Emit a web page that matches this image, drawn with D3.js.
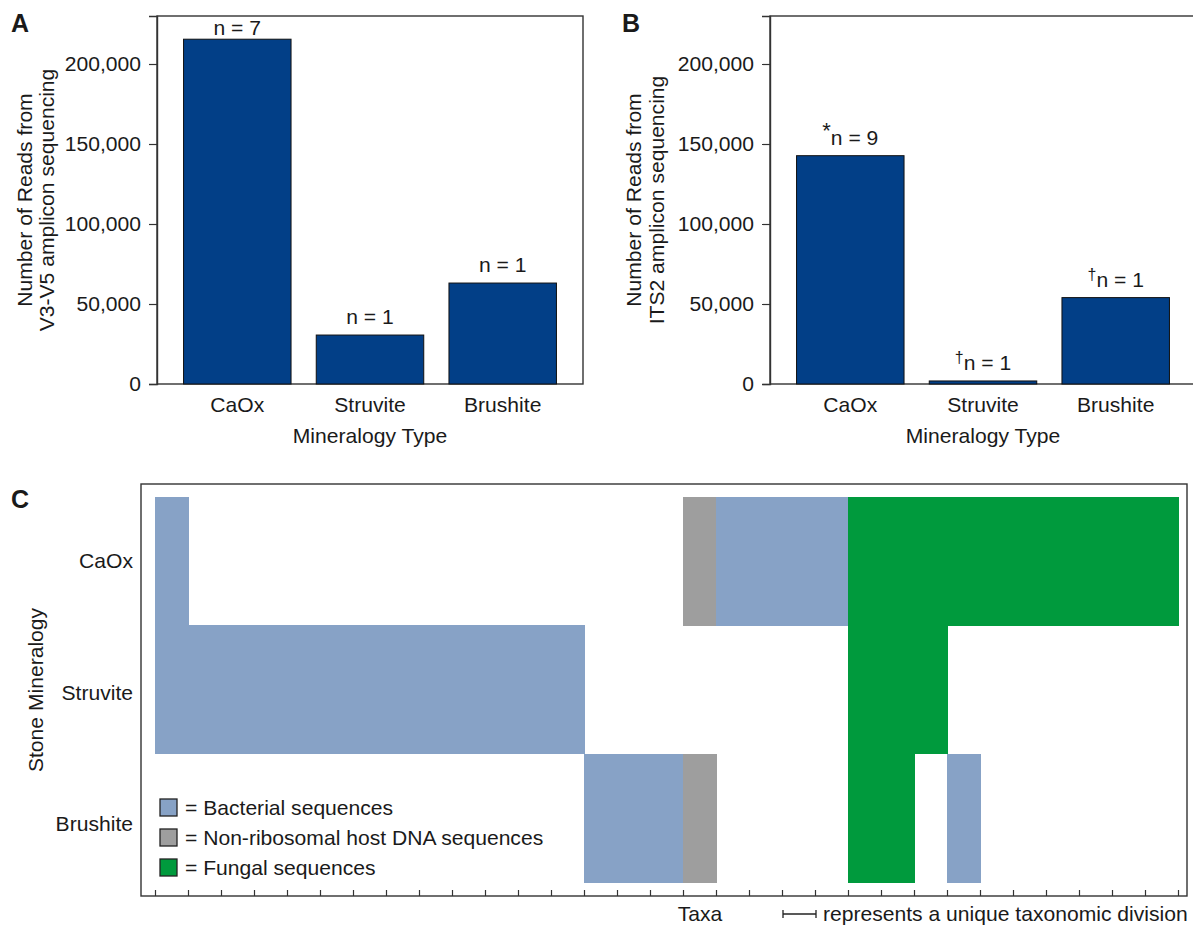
<!DOCTYPE html>
<html>
<head>
<meta charset="utf-8">
<script src="https://cdn.jsdelivr.net/npm/d3@7"></script>
<style>
  body { margin: 0; background: #fff; }
  text { font-family: "Liberation Sans", Arial, Helvetica, sans-serif; fill: #1a1a1a; }
</style>
</head>
<body>
<div id="chart"></div>
<script>
// ----------------------- data

var mineralTypes = ["CaOx", "Struvite", "Brushite"];
var v3v5Reads = [215500, 30600, 63100];
var its2Reads = [142700, 1900, 54000];
var v3v5Labels = ["n = 7", "n = 1", "n = 1"];
var its2Marks = ["*", "\u2020", "\u2020"];
var its2Labels = ["n = 9", "n = 1", "n = 1"];
var readTicks = [0, 50000, 100000, 150000, 200000];

// one letter per taxon column: B bacterial, H host DNA, F fungal, . nothing
var stoneRows = ["CaOx", "Struvite", "Brushite"];
var taxaCaOx     = "B...............HBBBBFFFFFFFFFF".split("");
var taxaStruvite = "BBBBBBBBBBBBB........FFF.......".split("");
var taxaBrushite = ".............BBBH....FF.B......".split("");
var legendKeys = ["B", "H", "F"];
var legendNames = ["= Bacterial sequences", "= Non-ribosomal host DNA sequences", "= Fungal sequences"];

var cellColor = { B: "#87a2c6", H: "#9e9e9e", F: "#009a3d" };
var barColor = "#023f87";
var fs = "21.1px";

var svg = d3.select("#chart").append("svg")
    .attr("width", 1193)
    .attr("height", 926);

var fmt = d3.format(",");

function drawBarPanel(cfg) {
    var top = 16, bottom = 384;
    var g = svg.append("g");

    var y = d3.scaleLinear().domain([0, 230000]).range([bottom, top]);
    var x = d3.scaleBand()
        .domain(mineralTypes)
        .range([cfg.left, cfg.right])
        .paddingInner(0.19)
        .paddingOuter(0.2);

    // frame
    g.append("rect")
        .attr("x", cfg.left).attr("y", top)
        .attr("width", cfg.right - cfg.left).attr("height", bottom - top)
        .attr("fill", "none").attr("stroke", "#333").attr("stroke-width", 1.4);

    // bars
    g.selectAll(".bar")
        .data(cfg.values)
        .enter()
        .append("rect")
        .attr("x", function(d, i) { return x(mineralTypes[i]); })
        .attr("y", function(d) { return y(d); })
        .attr("width", x.bandwidth())
        .attr("height", function(d) { return bottom - y(d); })
        .attr("fill", barColor)
        .attr("stroke", "#111")
        .attr("stroke-width", 1);

    // y axis
    var ax = g.append("g")
        .attr("transform", "translate(" + cfg.left + ",0)")
        .call(d3.axisLeft(y).tickValues(readTicks).tickFormat(fmt).tickSize(8).tickPadding(8));
    ax.select(".domain").attr("stroke", "#333").attr("stroke-width", 1.4);
    ax.selectAll(".tick line").attr("stroke", "#333").attr("stroke-width", 1.2);
    ax.selectAll("text").style("font-size", fs).attr("fill", "#1a1a1a");

    // category labels
    g.selectAll(".cat")
        .data(mineralTypes)
        .enter()
        .append("text")
        .attr("x", function(d) { return x(d) + x.bandwidth() / 2; })
        .attr("y", 412)
        .attr("text-anchor", "middle")
        .style("font-size", fs)
        .text(function(d) { return d; });

    g.append("text")
        .attr("x", (cfg.left + cfg.right) / 2)
        .attr("y", 443)
        .attr("text-anchor", "middle")
        .style("font-size", fs)
        .text("Mineralogy Type");

    // n labels
    var lab = g.selectAll(".nlab")
        .data(cfg.values)
        .enter()
        .append("text")
        .attr("x", function(d, i) { return x(mineralTypes[i]) + x.bandwidth() / 2; })
        .attr("y", function(d) { return Math.max(y(d) - 11, top + 19); })
        .attr("text-anchor", "middle")
        .style("font-size", fs);
    lab.each(function(d, i) {
        var t = d3.select(this);
        if (cfg.marks) {
            t.append("tspan").attr("dy", -7)
                .style("font-size", cfg.marks[i] === "*" ? "22px" : "16px")
                .text(cfg.marks[i]);
            t.append("tspan").attr("dy", 7).text(cfg.labels[i]);
        } else {
            t.text(cfg.labels[i]);
        }
    });

    // y title (two lines)
    var cy = (top + bottom) / 2;
    cfg.title.forEach(function(line, i) {
        g.append("text")
            .attr("transform", "translate(" + cfg.titleX[i] + "," + cy + ") rotate(-90)")
            .attr("text-anchor", "middle")
            .style("font-size", fs)
            .text(line);
    });

    // panel letter
    g.append("text")
        .attr("x", cfg.letterX).attr("y", 32)
        .style("font-size", "25px").style("font-weight", "bold")
        .text(cfg.letter);
}

drawBarPanel({
    left: 157, right: 583, values: v3v5Reads, labels: v3v5Labels,
    title: ["Number of Reads from", "V3-V5 amplicon sequencing"], titleX: [32, 54],
    letter: "A", letterX: 11
});
drawBarPanel({
    left: 770, right: 1196, values: its2Reads, labels: its2Labels, marks: its2Marks,
    title: ["Number of Reads from", "ITS2 amplicon sequencing"], titleX: [641, 664],
    letter: "B", letterX: 622
});

// ----------------------- panel C

var frameC = { left: 141, right: 1187, top: 484, bottom: 896 };
var gc = svg.append("g");

var xC = d3.scaleBand().domain(d3.range(taxaCaOx.length)).range([155, 1178]);
var yC = d3.scaleBand().domain(stoneRows).range([497, 882]);
var yLab = d3.scalePoint().domain(stoneRows).range([561, 824]);

var rowsData = [taxaCaOx, taxaStruvite, taxaBrushite];
rowsData.forEach(function(cells, r) {
    gc.selectAll(".cell" + r)
        .data(cells.map(function(c, i) { return { c: c, i: i }; }).filter(function(d) { return d.c !== "."; }))
        .enter()
        .append("rect")
        .attr("x", function(d) { return xC(d.i); })
        .attr("y", yC(stoneRows[r]))
        .attr("width", xC.bandwidth() + 0.5)
        .attr("height", yC.bandwidth() + 0.5)
        .attr("fill", function(d) { return cellColor[d.c]; })
        .attr("shape-rendering", "crispEdges");
});

gc.append("rect")
    .attr("x", frameC.left).attr("y", frameC.top)
    .attr("width", frameC.right - frameC.left).attr("height", frameC.bottom - frameC.top)
    .attr("fill", "none").attr("stroke", "#333").attr("stroke-width", 1.4);

// taxon division ticks
var tickScale = d3.scaleLinear().domain([0, taxaCaOx.length]).range([155, 1178]);
var axC = gc.append("g")
    .attr("transform", "translate(0," + frameC.bottom + ")")
    .call(d3.axisBottom(tickScale).tickValues(d3.range(taxaCaOx.length + 1)).tickSize(-6).tickFormat(""));
axC.select(".domain").remove();
axC.selectAll(".tick line").attr("stroke", "#333").attr("stroke-width", 1.2);

// row labels
gc.selectAll(".rowlab")
    .data(stoneRows)
    .enter()
    .append("text")
    .attr("x", 133)
    .attr("y", function(d) { return yLab(d); })
    .attr("dy", "0.35em")
    .attr("text-anchor", "end")
    .style("font-size", fs)
    .text(function(d) { return d; });

gc.append("text")
    .attr("transform", "translate(43," + (frameC.top + frameC.bottom) / 2 + ") rotate(-90)")
    .attr("text-anchor", "middle")
    .style("font-size", fs)
    .text("Stone Mineralogy");

gc.append("text")
    .attr("x", 11).attr("y", 508)
    .style("font-size", "25px").style("font-weight", "bold")
    .text("C");

// legend
legendKeys.forEach(function(k, i) {
    gc.append("rect")
        .attr("x", 160).attr("y", 799 + i * 30)
        .attr("width", 17).attr("height", 17)
        .attr("fill", cellColor[k]).attr("stroke", "#222").attr("stroke-width", 1.3);
    gc.append("text")
        .attr("x", 185).attr("y", 815 + i * 30)
        .style("font-size", fs)
        .text(legendNames[i]);
});

// Taxa label and scale bar
gc.append("text")
    .attr("x", 700).attr("y", 921)
    .attr("text-anchor", "middle")
    .style("font-size", fs)
    .text("Taxa");

var unit = tickScale(1) - tickScale(0);
var sb = gc.append("g").attr("transform", "translate(783,914)");
sb.append("line").attr("x1", 0).attr("x2", unit).attr("y1", 0).attr("y2", 0).attr("stroke", "#222").attr("stroke-width", 1.3);
sb.append("line").attr("x1", 0).attr("x2", 0).attr("y1", -4).attr("y2", 4).attr("stroke", "#222").attr("stroke-width", 1.3);
sb.append("line").attr("x1", unit).attr("x2", unit).attr("y1", -4).attr("y2", 4).attr("stroke", "#222").attr("stroke-width", 1.3);

gc.append("text")
    .attr("x", 823).attr("y", 921)
    .style("font-size", fs)
    .text("represents a unique taxonomic division");
</script>
</body>
</html>
